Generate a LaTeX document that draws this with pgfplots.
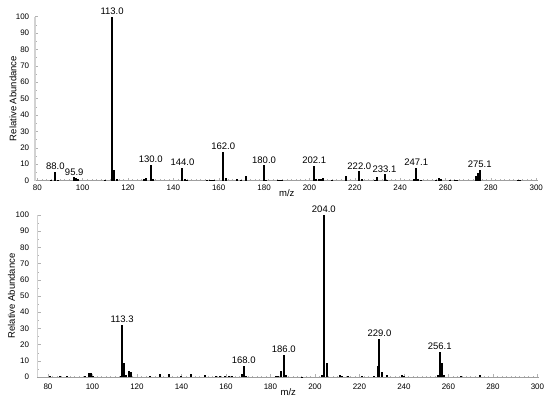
\documentclass[border=0pt]{standalone}
\usepackage{fontspec}
\setmainfont{Liberation Sans}
\usepackage{pgfplots}
\pgfplotsset{compat=1.18}
\begin{document}
\begin{tikzpicture}
\path (0pt,0pt) rectangle (550pt,400pt);
\pgfplotsset{
  msaxis/.style={
    scale only axis,
    axis x line=bottom, axis y line=left,
    axis line style={-},
    x axis line style={gray!75, line width=0.6pt},
    y axis line style={gray!35, line width=1.2pt},
    ymin=0, ymax=100,
    ytick={0,10,...,100},
    xtick={80,100,...,300},
    minor x tick num=9,
    minor y tick num=1,
    tick align=inside,
    major tick length=3pt, minor tick length=1.5pt,
    tick style={gray!60, line width=0.4pt},
    /pgf/number format/assume math mode=true,
    tick label style={font=\fontsize{8}{9}\selectfont, black},
    label style={font=\fontsize{9.5}{11}\selectfont},
    ylabel={Relative Abundance},
    xlabel={m/z},
    clip=false,
  },
  peaks/.style={ycomb, black, line width=2pt, mark=none},
  lab/.style={ycomb, black, line width=2pt, mark=none, nodes near coords,
    point meta=explicit symbolic,
    every node near coord/.style={font=\fontsize{9.5}{11}\selectfont, inner sep=1pt, anchor=south, black}},
}
% ---------------- top spectrum ----------------
\begin{axis}[msaxis,
  at={(35pt,219.5pt)}, anchor=south west,
  width=503.5pt, height=164pt,
  xmin=79, xmax=301,
  xlabel style={at={([yshift=-12.5pt]axis description cs:0.5,0)}, anchor=center},
  ylabel style={at={([xshift=-22pt]axis description cs:0,0.5)}, anchor=center},
  xticklabel style={yshift=-1.2pt},
  yticklabel style={xshift=-2.3pt},
]
\addplot[peaks] table {
x y
86 0.4
89 0.6
97 1.5
98 0.7
110 0.5
114 6.2
115 1.0
127 1.2
128 1.6
131 1.0
145 1.0
146 0.4
155 0.4
156 0.5
157 0.4
158 0.4
163 1.6
168 0.8
170 0.5
172 2.5
181 0.5
186 0.5
187 0.6
188 0.4
203 1.0
204 0.8
205 1.0
206 1.5
210 0.3
216 2.6
223 1.0
229 0.4
230 1.9
234 0.6
246 1.0
248 1.0
249 0.5
256 0.6
257 1.4
258 1.0
262 0.4
264 0.4
265 0.5
273.6 2.5
274.4 4.8
292 0.6
293 0.3
};
\addplot[lab] table[meta=l] {
x y l
88.0 5.3 88.0
96.3 2.0 95.9
113.0 100 113.0
130.0 9.6 130.0
144.0 7.8 144.0
162.0 17.6 162.0
180.0 9.3 180.0
202.1 8.8 202.1
222.0 5.6 222.0
233.1 3.8 233.1
247.1 7.7 247.1
275.1 6.6 275.1
};
\end{axis}
% ---------------- bottom spectrum ----------------
\begin{axis}[msaxis,
  at={(37.5pt,23pt)}, anchor=south west,
  width=501.5pt, height=162pt,
  xmin=75.3, xmax=300.7,
  xlabel style={at={([yshift=-14.7pt]axis description cs:0.5,0)}, anchor=center},
  ylabel style={at={([xshift=-26pt]axis description cs:0,0.5)}, anchor=center},
  xticklabel style={yshift=-3pt},
  yticklabel style={xshift=-5pt},
]
\addplot[peaks] table {
x y
81 0.4
85.5 0.4
88.7 0.7
96.6 0.4
98.5 2.6
99.4 2.4
100.3 0.9
112.7 0.5
114.2 8.6
115 1.0
116.3 3.8
117.2 2.8
126 0.5
130.5 2.0
134.5 2.0
140 0.4
144.5 1.8
150.5 1.2
155.5 0.4
157.5 0.5
159.5 0.6
161.5 0.4
162.5 0.5
167.2 1.6
169 0.9
182.5 0.5
183.5 0.7
184.8 3.4
187 1.4
194 0.3
203.2 1.0
205.2 8.8
211.3 1.5
212.2 0.8
215 0.4
221 0.4
226.5 0.8
228.2 6.8
230.2 3.3
232.3 1.0
239.3 1.0
240.2 0.5
255.5 1.0
257.0 8.8
257.9 1.5
265.6 0.5
274.2 1.3
};
\addplot[lab] table[meta=l] {
x y l
113.3 32.2 113.3
168.0 6.8 168.0
186.0 13.8 186.0
204.0 100 204.0
229.0 23.5 229.0
256.1 15.4 256.1
};
\end{axis}
\end{tikzpicture}
\end{document}
